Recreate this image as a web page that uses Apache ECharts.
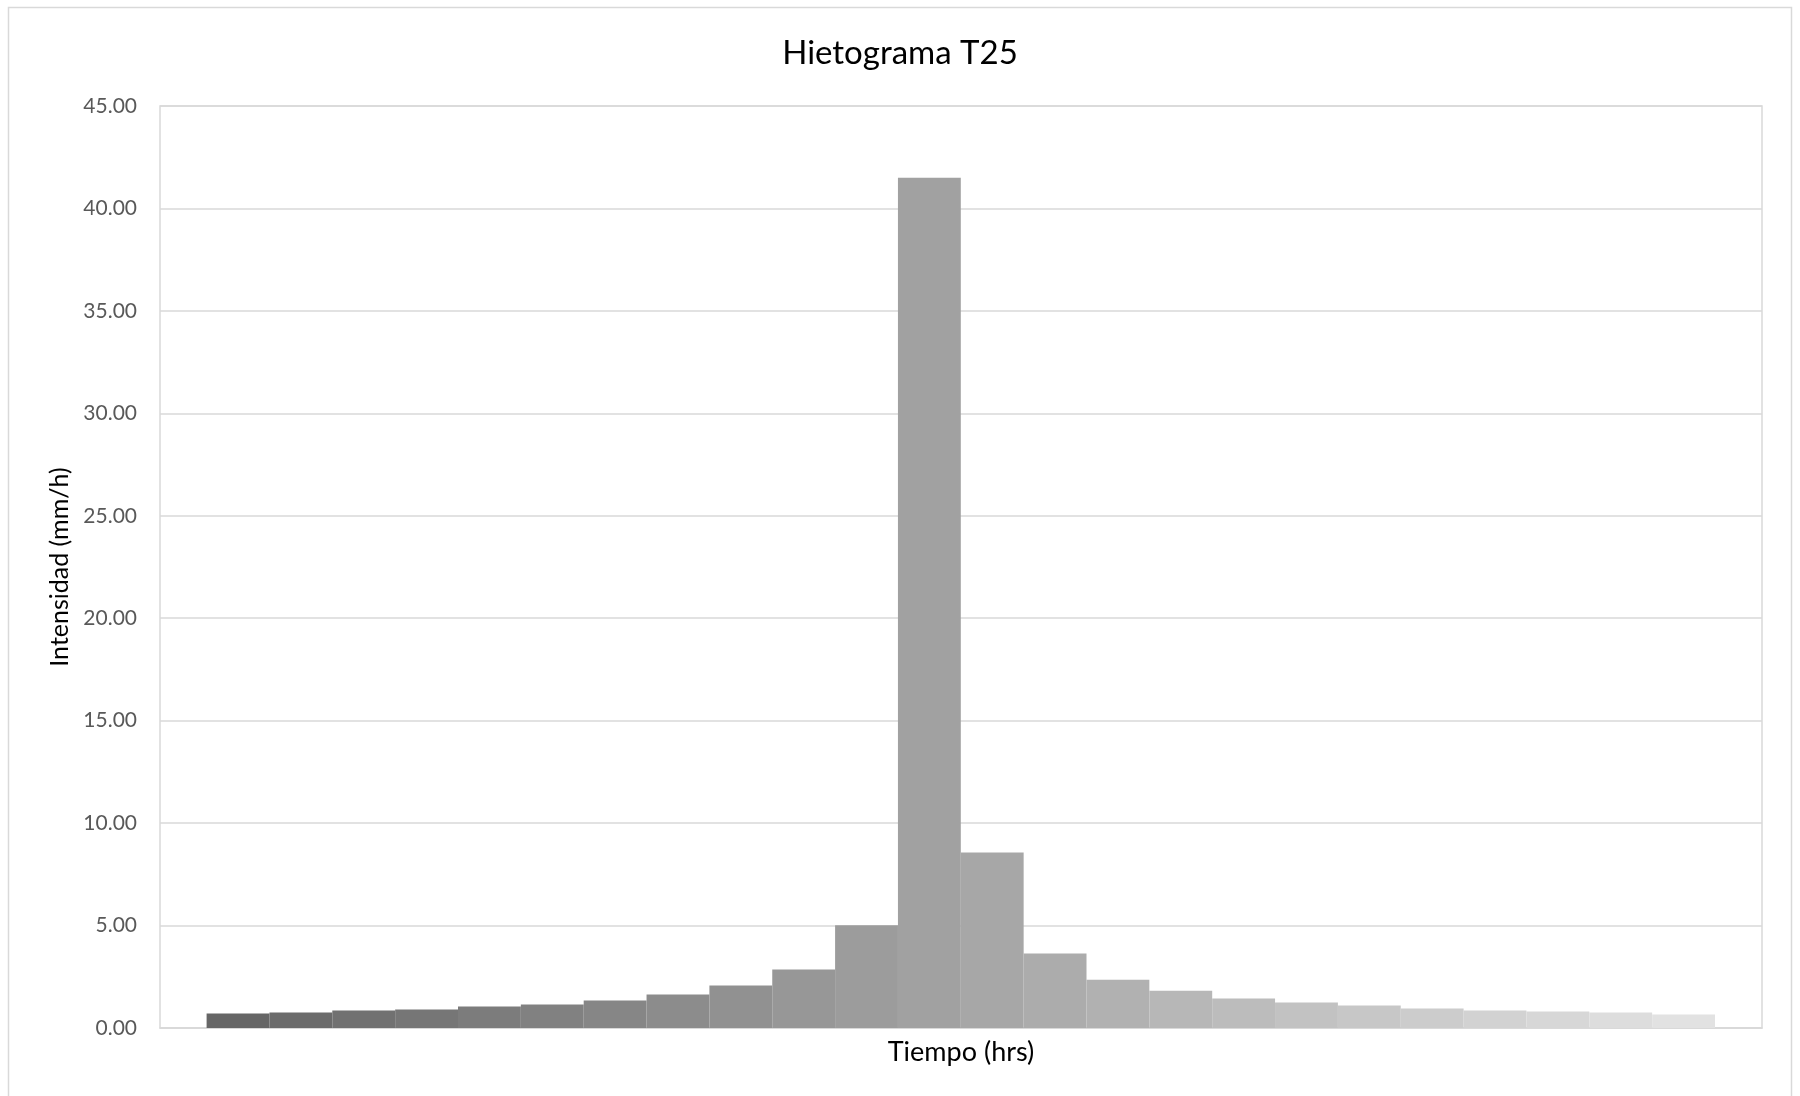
<!DOCTYPE html>
<html>
<head>
<meta charset="utf-8">
<title>Hietograma T25</title>
<script src="https://cdn.jsdelivr.net/npm/echarts@6/dist/echarts.min.js"></script>
<style>
  html, body { margin: 0; padding: 0; background: #ffffff; }
  #chart { width: 1800px; height: 1096px; }
</style>
</head>
<body>
<div id="chart"></div>
<script>
// Time steps (hours) of the design storm
const categories = ['1', '2', '3', '4', '5', '6', '7', '8', '9', '10', '11', '12',
                    '13', '14', '15', '16', '17', '18', '19', '20', '21', '22', '23', '24'];

// Rainfall intensity for each step (mm/h), alternating-block arrangement
const intensity = [0.71, 0.76, 0.85, 0.90, 1.05, 1.15, 1.34, 1.64, 2.08, 2.86, 5.01, 41.50,
                   8.57, 3.64, 2.36, 1.82, 1.44, 1.24, 1.10, 0.95, 0.85, 0.81, 0.76, 0.66];

// Value axis range
const yMin = 0;
const yMax = 45;
const yStep = 5;

const FONT = 'Lato, "Open Sans", sans-serif';

// Monochrome shading that lightens from the first bar to the last
function shade(i, n) {
  const v = Math.round(102 + (226 - 102) * i / (n - 1));
  const h = v.toString(16).padStart(2, '0');
  return '#' + h + h + h;
}

const chart = echarts.init(document.getElementById('chart'), null, { renderer: 'canvas' });

const plot = { top: 106, bottom: 68, left: 160, right: 38 };

chart.setOption({
  backgroundColor: '#ffffff',
  animation: false,
  title: {
    text: 'Hietograma T25',
    left: 'center',
    top: 32,
    textStyle: { fontFamily: FONT, fontSize: 33, fontWeight: 'normal', color: '#000000' }
  },
  graphic: [{
    type: 'rect',
    shape: { x: 8.5, y: 7.5, width: 1783, height: 1100 },
    style: { fill: 'none', stroke: '#d9d9d9', lineWidth: 1.5 },
    silent: true, z: -10
  }],
  grid: [
    // frame with gridlines and the value axis
    { top: plot.top, bottom: plot.bottom, left: plot.left, right: plot.right,
      show: true, borderColor: '#d9d9d9', borderWidth: 1.5, backgroundColor: 'transparent' },
    // bars sit inside the frame, inset on both sides
    { top: plot.top, bottom: plot.bottom, left: 206.6, right: 85 }
  ],
  xAxis: [
    {
      gridIndex: 0, type: 'category', data: categories,
      axisLine: { show: true, lineStyle: { color: '#d9d9d9', width: 1.5 } },
      axisTick: { show: false }, axisLabel: { show: false },
      name: 'Tiempo (hrs)', nameLocation: 'middle', nameGap: 11,
      nameTextStyle: { fontFamily: FONT, fontSize: 27, color: '#000000', verticalAlign: 'top' }
    },
    {
      gridIndex: 1, type: 'category', data: categories,
      axisLine: { show: false }, axisTick: { show: false }, axisLabel: { show: false }
    }
  ],
  yAxis: [
    {
      gridIndex: 0, type: 'value', min: yMin, max: yMax, interval: yStep,
      axisLine: { show: false }, axisTick: { show: false },
      axisLabel: {
        margin: 23, fontFamily: FONT, fontSize: 21, color: '#595959',
        formatter: v => v.toFixed(2)
      },
      splitLine: { show: true, lineStyle: { color: '#d9d9d9', width: 1.5 } },
      name: 'Intensidad (mm/h)', nameLocation: 'middle', nameGap: 87, nameRotate: 90,
      nameTextStyle: { fontFamily: FONT, fontSize: 25, color: '#000000' }
    },
    {
      gridIndex: 1, type: 'value', min: yMin, max: yMax, interval: yStep,
      axisLine: { show: false }, axisTick: { show: false },
      axisLabel: { show: false }, splitLine: { show: false }
    }
  ],
  series: [{
    type: 'bar',
    xAxisIndex: 1, yAxisIndex: 1,
    barCategoryGap: '0%',
    data: intensity.map((v, i) => ({ value: v, itemStyle: { color: shade(i, intensity.length) } })),
    z: 5
  }]
});
</script>
</body>
</html>
